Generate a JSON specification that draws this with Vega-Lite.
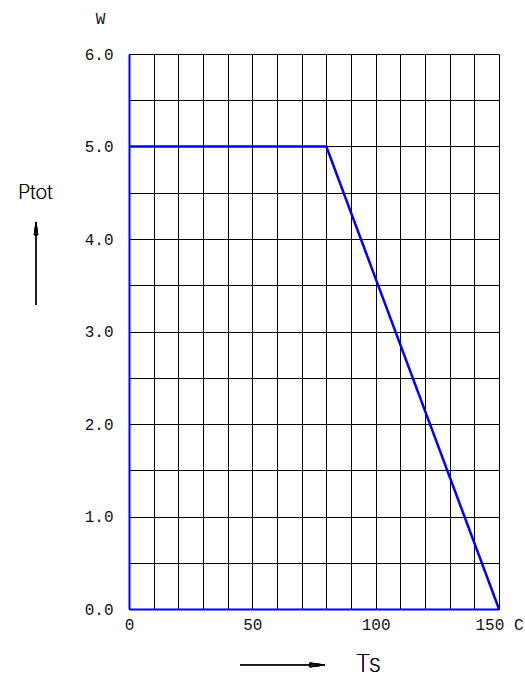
{
  "$schema": "https://vega.github.io/schema/vega-lite/v6.json",
  "width": 370,
  "height": 555,
  "autosize": {"type": "none"},
  "padding": {"left": 129, "top": 54, "right": 26, "bottom": 68},
  "background": "white",
  "config": {
    "view": {"stroke": null},
    "font": "Liberation Mono",
    "axis": {"labelFont": "Liberation Mono", "titleFont": "Liberation Mono"}
  },
  "data": {"values": [
    {"Ts": 0, "Ptot": 5.0},
    {"Ts": 80, "Ptot": 5.0},
    {"Ts": 150, "Ptot": 0.0}
  ]},
  "encoding": {
    "x": {"field": "Ts", "type": "quantitative",
      "scale": {"domain": [0, 150], "nice": false, "zero": false},
      "axis": {
        "values": [0,10,20,30,40,50,60,70,80,90,100,110,120,130,140,150],
        "labelExpr": "datum.value == 150 ? '150 C' : (datum.value % 50 == 0 ? format(datum.value, 'd') : '')",
        "grid": true, "gridColor": "#000000", "gridWidth": 1, "gridOpacity": 1,
        "domain": true, "domainColor": "#0000ff", "domainWidth": 2,
        "ticks": false, "labelPadding": 7, "labelFontSize": 16, "labelColor": "#111111",
        "labelFlush": false, "labelOverlap": false, "title": null
      }},
    "y": {"field": "Ptot", "type": "quantitative",
      "scale": {"domain": [0, 6], "nice": false, "zero": false},
      "axis": {
        "values": [0,0.5,1,1.5,2,2.5,3,3.5,4,4.5,5,5.5,6],
        "labelExpr": "datum.value % 1 == 0 ? format(datum.value, '.1f') : ''",
        "grid": true, "gridColor": "#000000", "gridWidth": 1, "gridOpacity": 1,
        "domain": true, "domainColor": "#0000ff", "domainWidth": 2,
        "ticks": false, "labelPadding": 16, "labelFontSize": 16, "labelColor": "#111111",
        "labelFlush": false, "labelOverlap": false,
        "title": "W", "titleAngle": 0, "titleAlign": "center", "titleBaseline": "middle",
        "titleX": -29, "titleY": -36, "titleFontSize": 16, "titleFontWeight": "normal", "titleColor": "#111111"
      }}
  },
  "layer": [
    {
      "mark": {"type": "line", "color": "#0000ff", "strokeWidth": 2.5}
    },
    {
      "mark": {"type": "text", "font": "Inter", "fontSize": 20, "fontWeight": 200, "letterSpacing": 2, "align": "center", "baseline": "middle", "clip": false, "color": "#111111"},
      "encoding": {
        "x": {"datum": -38, "type": "quantitative"},
        "y": {"datum": 4.5, "type": "quantitative"},
        "text": {"value": "Ptot"}
      }
    },
    {
      "mark": {"type": "text", "font": "Inter", "fontSize": 24, "fontWeight": 200, "letterSpacing": 3, "align": "center", "baseline": "middle", "clip": false, "color": "#111111"},
      "encoding": {
        "x": {"datum": 97, "type": "quantitative"},
        "y": {"datum": -0.6, "type": "quantitative"},
        "text": {"value": "Ts"}
      }
    },
    {
      "mark": {"type": "rule", "color": "#000000", "strokeWidth": 1, "clip": false},
      "encoding": {
        "x": {"datum": 45, "type": "quantitative"},
        "x2": {"datum": 79.4},
        "y": {"datum": -0.605, "type": "quantitative"}
      }
    },
    {
      "mark": {"type": "point", "shape": "M-2,-0.27L0,0L-2,0.27Z", "size": 225, "filled": false, "stroke": "#000000", "strokeWidth": 1, "opacity": 1, "clip": false},
      "encoding": {
        "x": {"datum": 79.4, "type": "quantitative"},
        "y": {"datum": -0.605, "type": "quantitative"}
      }
    },
    {
      "mark": {"type": "rule", "color": "#000000", "strokeWidth": 1, "clip": false},
      "encoding": {
        "x": {"datum": -37.7, "type": "quantitative"},
        "y": {"datum": 3.286, "type": "quantitative"},
        "y2": {"datum": 4.184}
      }
    },
    {
      "mark": {"type": "point", "shape": "M-0.27,2L0,0L0.27,2Z", "size": 169, "filled": false, "stroke": "#000000", "strokeWidth": 1, "opacity": 1, "clip": false},
      "encoding": {
        "x": {"datum": -37.7, "type": "quantitative"},
        "y": {"datum": 4.184, "type": "quantitative"}
      }
    }
  ]
}
